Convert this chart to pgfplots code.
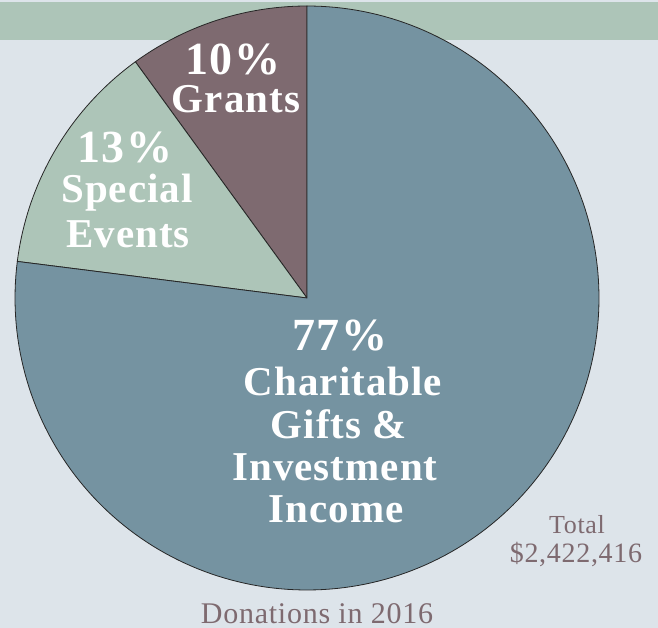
\documentclass[border=0pt]{standalone}
\usepackage{pgfplots}
\pgfplotsset{compat=1.18}
\usepackage{fontspec}
\setmainfont{Liberation Serif}[LetterSpace=2.5]
\definecolor{bg}{HTML}{DDE4EA}
\definecolor{band}{HTML}{ADC5B8}
\definecolor{grants}{HTML}{7E6A70}
\definecolor{special}{HTML}{ADC5B8}
\definecolor{charit}{HTML}{7593A1}
\definecolor{txt}{HTML}{7E6A70}
\begin{document}
\begin{tikzpicture}
\useasboundingbox (0,0) rectangle (658pt,628pt);
\fill[bg] (0,0) rectangle (658pt,628pt);
\fill[band] (0,588pt) rectangle (658pt,626pt);
% shares in percent
\pgfmathsetmacro{\pG}{10}
\pgfmathsetmacro{\pS}{13}
\pgfmathsetmacro{\pC}{77}
\pgfmathsetmacro{\aA}{90}
\pgfmathsetmacro{\aB}{\aA+3.6*\pG}
\pgfmathsetmacro{\aC}{\aB+3.6*\pS}
\pgfmathsetmacro{\aD}{\aC+3.6*\pC}
\begin{axis}[at={(0,0)}, anchor=south west, scale only axis,
  width=658pt, height=628pt, xmin=0, xmax=658, ymin=0, ymax=628,
  y dir=reverse, hide axis, clip=false]
\addplot[fill=grants, draw=black!85, line width=0.8pt, line join=round,
  domain=\aA:\aB, samples=40, variable=\t]
  ({307+292*cos(\t)},{298-292*sin(\t)}) -- (axis cs:307,298) -- cycle;
\addplot[fill=special, draw=black!85, line width=0.8pt, line join=round,
  domain=\aB:\aC, samples=40, variable=\t]
  ({307+292*cos(\t)},{298-292*sin(\t)}) -- (axis cs:307,298) -- cycle;
\addplot[fill=charit, draw=black!85, line width=0.8pt, line join=round,
  domain=\aC:\aD, samples=200, variable=\t]
  ({307+292*cos(\t)},{298-292*sin(\t)}) -- (axis cs:307,298) -- cycle;
\tikzset{pct/.style={anchor=base, text=white, inner sep=0pt, font=\fontsize{46}{46}\selectfont\bfseries},
  lab/.style={anchor=base, text=white, inner sep=0pt, font=\fontsize{41}{41}\selectfont\bfseries},
  note/.style={anchor=base, text=txt, inner sep=0pt}}
\node[pct] at (axis cs:233,75) {10\%};
\node[lab] at (axis cs:236,113) {Grants};
\node[pct] at (axis cs:125,163) {13\%};
\node[lab] at (axis cs:127,203) {Special};
\node[lab] at (axis cs:128,248) {Events};
\node[pct] at (axis cs:340,350) {77\%};
\node[lab] at (axis cs:343,395) {Charitable};
\node[lab] at (axis cs:339,438) {Gifts \&};
\node[lab] at (axis cs:335,480) {Investment};
\node[lab] at (axis cs:336,522) {Income};
\node[note, font=\fontsize{26}{26}\selectfont] at (axis cs:577,533) {Total};
\node[note, font=\fontsize{28}{28}\selectfont] at (axis cs:576,562) {\$2,422,416};
\node[note, font=\fontsize{30}{30}\selectfont] at (axis cs:317,623) {Donations in 2016};
\end{axis}
\end{tikzpicture}
\end{document}
